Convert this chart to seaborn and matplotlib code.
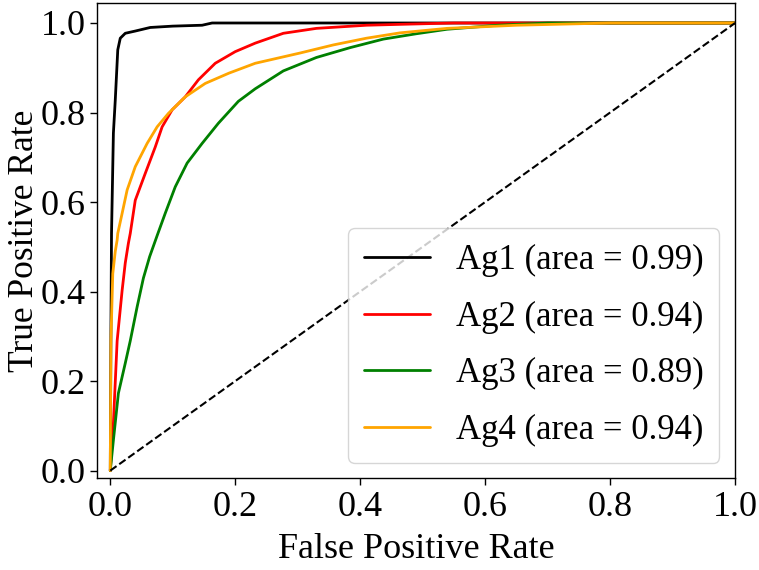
import numpy as np
import pandas as pd
import matplotlib
matplotlib.use("Agg")
import matplotlib.pyplot as plt
import seaborn as sns

# ROC curves
fpr_ag1 = [0, 0.001, 0.002, 0.005, 0.008, 0.012, 0.016, 0.024, 0.04, 0.064, 0.1, 0.147, 0.163, 1.0]
tpr_ag1 = [0, 0.30, 0.53, 0.754, 0.828, 0.94, 0.966, 0.977, 0.982, 0.990, 0.993, 0.995, 1.0, 1.0]

fpr_ag2 = [0, 0.005, 0.011, 0.019, 0.024, 0.029, 0.032, 0.04, 0.056, 0.072, 0.083, 0.099,
           0.12, 0.141, 0.168, 0.2, 0.232, 0.277, 0.33, 0.41, 0.464, 0.55, 1.0]
tpr_ag2 = [0, 0.106, 0.29, 0.403, 0.464, 0.508, 0.53, 0.604, 0.664, 0.723, 0.768, 0.806,
           0.835, 0.873, 0.91, 0.936, 0.955, 0.977, 0.988, 0.995, 0.997, 1.0, 1.0]

fpr_ag3 = [0, 0.005, 0.013, 0.024, 0.032, 0.043, 0.053, 0.063, 0.075, 0.088, 0.104, 0.123,
           0.147, 0.173, 0.205, 0.232, 0.277, 0.33, 0.384, 0.437, 0.49, 0.539, 0.62, 0.7, 1.0]
tpr_ag3 = [0, 0.068, 0.173, 0.24, 0.29, 0.366, 0.43, 0.478, 0.525, 0.575, 0.634, 0.687,
           0.731, 0.776, 0.825, 0.853, 0.893, 0.923, 0.945, 0.964, 0.976, 0.986, 0.995, 1.0, 1.0]

fpr_ag4 = [0, 0.001, 0.004, 0.008, 0.011, 0.012, 0.019, 0.027, 0.04, 0.059, 0.075, 0.093,
           0.12, 0.152, 0.19, 0.232, 0.304, 0.357, 0.41, 0.464, 0.539, 0.65, 0.8, 1.0]
tpr_ag4 = [0, 0.29, 0.44, 0.49, 0.515, 0.53, 0.575, 0.627, 0.679, 0.731, 0.768, 0.798,
           0.835, 0.865, 0.888, 0.91, 0.933, 0.951, 0.966, 0.978, 0.988, 0.995, 1.0, 1.0]

names = ["Ag1", "Ag2", "Ag3", "Ag4"]
areas = [0.99, 0.94, 0.89, 0.94]
colors = ["black", "red", "green", "orange"]

sns.set_style("ticks", {"axes.edgecolor": "black", "xtick.color": "black", "ytick.color": "black",
                        "text.color": "black", "axes.labelcolor": "black"})
plt.rcParams["font.family"] = ["Liberation Serif", "DejaVu Serif"]

fig = plt.figure(figsize=(7.59, 5.70), dpi=100)
ax = fig.add_axes([0.128, 0.161, 0.8405, 0.834])

curves = [(fpr_ag1, tpr_ag1), (fpr_ag2, tpr_ag2), (fpr_ag3, tpr_ag3), (fpr_ag4, tpr_ag4)]
for (fpr, tpr), name, area, col in zip(curves, names, areas, colors):
    d = pd.DataFrame({"fpr": fpr, "tpr": tpr})
    sns.lineplot(data=d, x="fpr", y="tpr", ax=ax, color=col, lw=2, sort=False,
                 estimator=None, label=f"{name} (area = {area:.2f})")

# chance line
ax.plot([0, 1], [0, 1], "k--", lw=1.5)

ax.set_xlim(-0.021, 1.0)
ax.set_ylim(-0.017, 1.045)
ax.set_xticks(np.arange(0, 1.01, 0.2))
ax.set_yticks(np.arange(0, 1.01, 0.2))
ax.xaxis.set_major_formatter(matplotlib.ticker.FormatStrFormatter("%.1f"))
ax.yaxis.set_major_formatter(matplotlib.ticker.FormatStrFormatter("%.1f"))
ax.tick_params(labelsize=26, width=1, length=5, labelcolor="black")
ax.tick_params(axis="x", pad=4)
ax.tick_params(axis="y", pad=3)
for s in ax.spines.values():
    s.set_linewidth(1.0)
ax.set_xlabel("False Positive Rate", fontsize=26, labelpad=7)
ax.set_ylabel("True Positive Rate", fontsize=25.5, labelpad=0)
leg = ax.legend(loc="lower right", fontsize=25, handlelength=1.9, handletextpad=0.75,
                labelspacing=0.68, borderpad=0.45, borderaxespad=0.45)
for t in leg.get_texts():
    t.set_color("black")

fig.savefig("out.png", dpi=100)
